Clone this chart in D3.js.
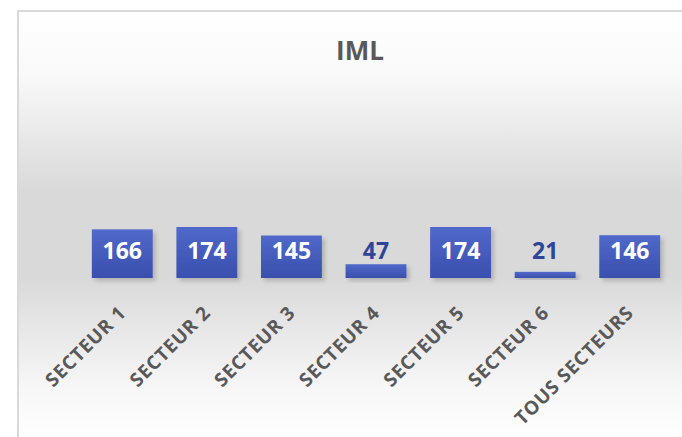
<!DOCTYPE html>
<html>
<head>
<meta charset="utf-8">
<script src="https://cdn.jsdelivr.net/npm/d3@7"></script>
<style>
  html, body { margin: 0; padding: 0; background: #ffffff; }
  svg { display: block; }
</style>
</head>
<body>
<svg id="chart" width="682" height="437"></svg>
<script>
const categories = ["SECTEUR 1", "SECTEUR 2", "SECTEUR 3", "SECTEUR 4", "SECTEUR 5", "SECTEUR 6", "TOUS SECTEURS"];
const values = [166, 174, 145, 47, 174, 21, 146];
const title = "IML";

const W = 682, H = 437;
const svg = d3.select("#chart");
const defs = svg.append("defs");

const bg = defs.append("linearGradient").attr("id", "bg")
  .attr("gradientUnits", "userSpaceOnUse")
  .attr("x1", 0).attr("y1", 11).attr("x2", 0).attr("y2", 440);
[[0, "#ffffff"], [0.15, "#f9f9f9"], [0.42, "#d9d9d9"], [0.62, "#d9d9d9"], [0.88, "#f7f7f7"], [1, "#ffffff"]]
  .forEach(([o, c]) => bg.append("stop").attr("offset", o).attr("stop-color", c));

const barGrad = defs.append("linearGradient").attr("id", "barGrad")
  .attr("x1", 0).attr("y1", 0).attr("x2", 0).attr("y2", 1);
barGrad.append("stop").attr("offset", 0).attr("stop-color", "#5069ca");
barGrad.append("stop").attr("offset", 1).attr("stop-color", "#3a4fad");

const shadow = defs.append("filter").attr("id", "shadow")
  .attr("x", "-20%").attr("y", "-20%").attr("width", "150%").attr("height", "150%");
shadow.append("feDropShadow").attr("dx", 3).attr("dy", 3).attr("stdDeviation", 2)
  .attr("flood-color", "#000").attr("flood-opacity", 0.18);

// chart area background + border
svg.append("rect").attr("x", 18).attr("y", 11).attr("width", 720).attr("height", 440)
  .attr("fill", "url(#bg)").attr("stroke", "#d9d9d9").attr("stroke-width", 2);

// title
svg.append("text").attr("x", 360).attr("y", 60)
  .attr("text-anchor", "middle")
  .attr("font-family", "'Open Sans', sans-serif").attr("font-weight", 700)
  .attr("font-size", 26).attr("fill", "#595959").text(title);

const x = d3.scaleBand().domain(categories).range([80, 672])
  .paddingInner(0.28).paddingOuter(0.14);
const y = d3.scaleLinear().domain([0, d3.max(values)]).range([278, 227]);

const data = categories.map((c, i) => ({ c, v: values[i] }));

svg.append("g").selectAll("rect").data(data).join("rect")
  .attr("x", d => x(d.c)).attr("width", x.bandwidth())
  .attr("y", d => y(d.v)).attr("height", d => y(0) - y(d.v))
  .attr("fill", "url(#barGrad)").attr("filter", "url(#shadow)");

// value labels (all share the same baseline)
const labelBase = y(0) - 19.5;
const labelCap = 16;
svg.append("g").selectAll("text").data(data).join("text")
  .attr("x", d => x(d.c) + x.bandwidth() / 2)
  .attr("y", labelBase)
  .attr("text-anchor", "middle")
  .attr("font-family", "'Open Sans', sans-serif").attr("font-weight", 700)
  .attr("font-size", 23)
  .attr("fill", d => y(d.v) < labelBase - labelCap ? "#ffffff" : "#2f4596")
  .text(d => d.v);

// category axis
const axis = svg.append("g").attr("transform", `translate(0,${y(0)})`)
  .call(d3.axisBottom(x).tickSize(0).tickPadding(0));
axis.select(".domain").remove();
axis.selectAll("text")
  .attr("x", 0).attr("y", 0).attr("dy", 0)
  .attr("text-anchor", "end")
  .attr("transform", "translate(5,36) rotate(-45)")
  .attr("font-family", "'Open Sans', sans-serif").attr("font-weight", 700)
  .attr("font-size", 19).attr("letter-spacing", 0.8).attr("fill", "#595959");
</script>
</body>
</html>
